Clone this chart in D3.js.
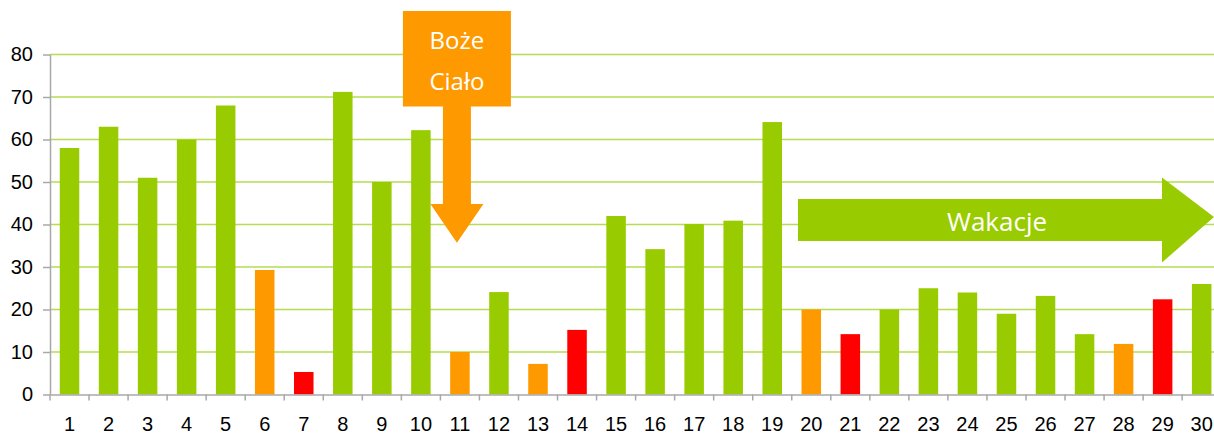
<!DOCTYPE html>
<html><head><meta charset="utf-8">
<script src="https://cdn.jsdelivr.net/npm/d3@7"></script>
<style>html,body{margin:0;padding:0;background:#fff;overflow:hidden}</style>
</head><body>
<svg id="c" width="1214" height="435"></svg>
<script>
const categories = d3.range(1, 31).map(String);
const values = [58, 63, 51, 60, 68, 29.3, 5.3, 71.2, 50, 62.2, 10, 24.1, 7.2, 15.2, 42, 34.2, 40.1, 40.9, 64.1, 20, 14.2, 20, 25, 24, 19, 23.2, 14.2, 11.9, 22.4, 26];
const kinds = ["g","g","g","g","g","o","r","g","g","g","o","g","o","r","g","g","g","g","g","o","r","g","g","g","g","g","g","o","r","g"];
const yTicks = [0, 10, 20, 30, 40, 50, 60, 70, 80];
const colors = {g: "#99CC00", o: "#FF9900", r: "#FF0000"};

const svg = d3.select("#c");
const pLeft = 50, pRight = 1221.2, pTop = 54.5, pBottom = 394.5;
const x = d3.scaleBand().domain(categories).range([pLeft, pRight]).paddingInner(0.5).paddingOuter(0.25);
const y = d3.scaleLinear().domain([0, 80]).range([pBottom, pTop]);
const step = x.step();

// gridlines
svg.append("g").selectAll("line").data(yTicks.filter(t => t > 0)).join("line")
  .attr("x1", pLeft).attr("x2", 1214).attr("y1", d => y(d)).attr("y2", d => y(d))
  .attr("stroke", "#B5DC52").attr("stroke-width", 1.3);

// bars
svg.append("g").selectAll("rect").data(values).join("rect")
  .attr("x", (d, i) => x(categories[i])).attr("width", x.bandwidth())
  .attr("y", d => y(d)).attr("height", d => y(0) - y(d))
  .attr("fill", (d, i) => colors[kinds[i]]);

// y axis
const ya = svg.append("g").attr("transform", `translate(${pLeft},0)`)
  .call(d3.axisLeft(y).tickValues(yTicks).tickSize(7).tickPadding(10).tickSizeOuter(0));
ya.select(".domain").attr("stroke", "#A8A8A8").attr("stroke-width", 1.5);
ya.selectAll(".tick line").attr("stroke", "#A8A8A8").attr("stroke-width", 1.5);
ya.selectAll("text").attr("font-family", "Liberation Sans, Arial, sans-serif").attr("font-size", 20).attr("fill", "#000");

// x axis
const xa = svg.append("g").attr("transform", `translate(0,${pBottom})`)
  .call(d3.axisBottom(x).tickSize(0).tickPadding(22));
xa.select(".domain").attr("stroke", "#A8A8A8").attr("stroke-width", 1.5);
xa.selectAll("text").attr("font-family", "Liberation Sans, Arial, sans-serif").attr("font-size", 20).attr("fill", "#000");
// boundary ticks
svg.append("g").selectAll("line").data(d3.range(0, categories.length + 1)).join("line")
  .attr("x1", i => pLeft + i * step).attr("x2", i => pLeft + i * step)
  .attr("y1", pBottom).attr("y2", pBottom + 6)
  .attr("stroke", "#A8A8A8").attr("stroke-width", 1.5);

// Boże Ciało annotation
const bx = x("11") + x.bandwidth() / 2 - 3;
const bc = svg.append("g");
bc.append("path").attr("fill", "#FF9900").attr("d", [
  `M${bx - 54},11`, `L${bx + 54},11`, `L${bx + 54},106.5`, `L${bx + 14},106.5`, `L${bx + 14},204`,
  `L${bx + 26.5},204`, `L${bx},${y(35.7)}`, `L${bx - 26.5},204`, `L${bx - 14},204`, `L${bx - 14},106.5`,
  `L${bx - 54},106.5`, "Z"].join(" "));
bc.append("text").attr("x", bx).attr("y", 48.5).attr("text-anchor", "middle")
  .attr("font-family", "Open Sans, sans-serif").attr("font-size", 24).attr("fill", "#fff").text("Boże");
bc.append("text").attr("x", bx).attr("y", 90).attr("text-anchor", "middle")
  .attr("font-family", "Open Sans, sans-serif").attr("font-size", 24).attr("fill", "#fff").text("Ciało");

// Wakacje annotation
const wk = svg.append("g");
wk.append("path").attr("fill", "#99CC00").attr("d", [
  "M798,199", "L1162,199", "L1162,177.5", "L1214,217", "L1162,262.5", "L1162,241", "L798,241", "Z"].join(" "));
wk.append("text").attr("x", 997).attr("y", 231).attr("text-anchor", "middle")
  .attr("font-family", "Open Sans, sans-serif").attr("font-size", 26).attr("fill", "#fff").text("Wakacje");
</script>
</body></html>
